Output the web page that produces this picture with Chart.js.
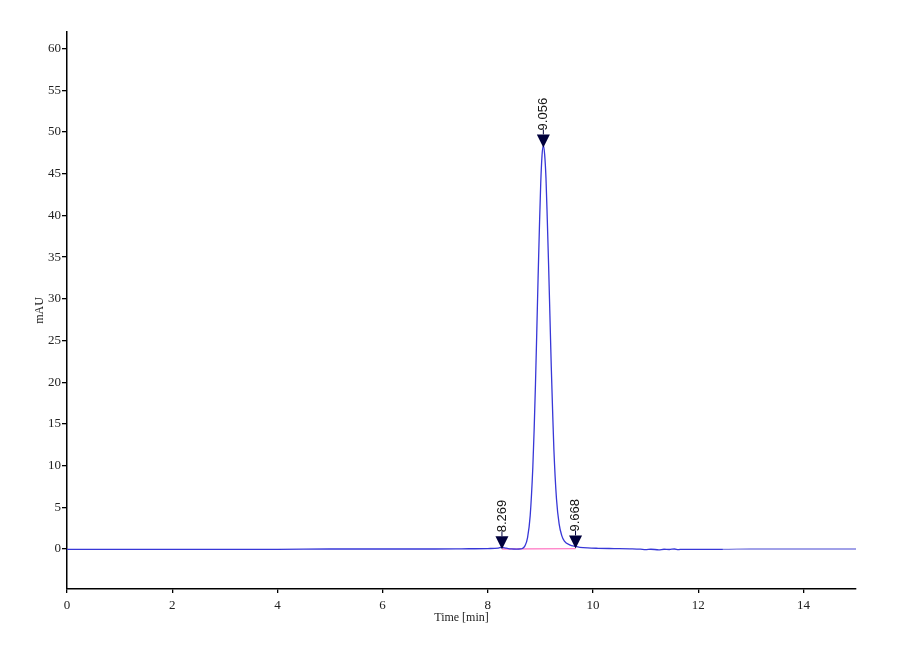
<!DOCTYPE html>
<html>
<head>
<meta charset="utf-8">
<script src="https://cdn.jsdelivr.net/npm/chart.js@4.4.0/dist/chart.umd.min.js"></script>
<style>
  html, body { margin: 0; padding: 0; background: #fff; }
  #wrap { width: 900px; height: 660px; }
</style>
</head>
<body>
<div id="wrap"><canvas id="chromChart" width="900" height="660"></canvas></div>
<script>
// retention time (min) and detector signal (mAU)
var times = [0, 1, 2, 3, 4, 5, 6, 7, 7.5, 8.0, 8.2, 8.269, 8.35, 8.45, 8.55, 8.62,
    8.656, 8.706, 8.756, 8.806, 8.856, 8.881, 8.906, 8.931, 8.956, 8.981, 9.006, 9.031,
    9.056, 9.081, 9.106, 9.131, 9.156, 9.181, 9.206, 9.231, 9.256, 9.306, 9.356, 9.406,
    9.456, 9.556, 9.668, 9.75, 9.9, 10.1, 10.4, 10.7, 10.9, 11.0, 11.1, 11.25, 11.35,
    11.45, 11.55, 11.62, 11.7, 12.0, 12.47, 13, 14, 15];
var signal = [-0.05, -0.05, -0.05, -0.05, -0.05, 0, 0, 0, 0.02, 0.05, 0.1, 0.2, 0.1, 0.0, -0.02, 0.0,
    0.05, 0.37, 1.35, 4.0, 9.8, 14.3, 19.7, 26.0, 32.5, 38.5, 43.8, 47.2,
    48.4, 47.3, 44.5, 39.5, 34.0, 28.0, 22.0, 16.8, 12.0, 6.0, 3.0, 1.6,
    0.95, 0.5, 0.3, 0.2, 0.12, 0.08, 0.05, 0.02, -0.02, -0.08, -0.03, -0.1, -0.03,
    -0.06, 0.0, -0.08, -0.04, -0.05, -0.05, 0, 0, 0];

// integration baseline drawn under the main peak
var baseTimes = [8.269, 9.668];
var baseValues = [0.0, 0.05];

// peak marks
var peakTimes = [8.269, 9.056, 9.668];
var peakHeights = [0.2, 48.4, 0.3];
var peakLabels = ['8.269', '9.056', '9.668'];

var xTicks = [0, 2, 4, 6, 8, 10, 12, 14];
var yTicks = [0, 5, 10, 15, 20, 25, 30, 35, 40, 45, 50, 55, 60];

var tracePoints = times.map((t, i) => ({ x: t, y: signal[i] }));
var basePoints = baseTimes.map((t, i) => ({ x: t, y: baseValues[i] }));

var peakMarks = {
    id: 'peakMarks',
    afterDatasetsDraw(chart) {
        var ctx = chart.ctx;
        var xs = chart.scales.x;
        var ys = chart.scales.y;
        for (let i = 0; i < peakTimes.length; i++) {
            let px = xs.getPixelForValue(peakTimes[i]);
            let py = ys.getPixelForValue(peakHeights[i]) + 2;
            let top = py - 13;
            ctx.save();
            ctx.fillStyle = '#00003c';
            ctx.beginPath();
            ctx.moveTo(px, py);
            ctx.lineTo(px - 6.5, top);
            ctx.lineTo(px + 6.5, top);
            ctx.closePath();
            ctx.fill();
            ctx.strokeStyle = '#00003c';
            ctx.lineWidth = 1;
            ctx.beginPath();
            ctx.moveTo(px, top);
            ctx.lineTo(px, top - 5);
            ctx.stroke();
            ctx.translate(px, top - 4);
            ctx.rotate(-Math.PI / 2);
            ctx.font = '13px "Liberation Sans", Arial, sans-serif';
            ctx.fillStyle = '#111';
            ctx.textAlign = 'left';
            ctx.textBaseline = 'middle';
            ctx.fillText(peakLabels[i], 0, 0);
            ctx.restore();
        }
    }
};

var ctx = document.getElementById('chromChart').getContext('2d');

var myChart = new Chart(ctx, {
    type: 'line',
    data: {
        datasets: [{
            label: 'signal',
            data: tracePoints,
            borderColor: 'rgb(55, 55, 215)',
            borderWidth: 1.3,
            pointRadius: 0,
            cubicInterpolationMode: 'monotone',
            segment: {
                borderColor: c => c.p0.parsed.x >= 12.47 ? 'rgb(130, 130, 225)' : undefined
            },
            order: 1
        }, {
            label: 'baseline',
            data: basePoints,
            borderColor: 'rgb(255, 130, 200)',
            borderWidth: 1.3,
            pointRadius: 0,
            order: 2
        }]
    },
    options: {
        responsive: false,
        animation: false,
        devicePixelRatio: 1,
        layout: { padding: { left: 0, top: 32, right: 44, bottom: 0 } },
        plugins: {
            legend: { display: false },
            tooltip: { enabled: false }
        },
        scales: {
            x: {
                type: 'linear',
                min: 0,
                max: 15,
                afterBuildTicks: scale => { scale.ticks = xTicks.map(v => ({ value: v })); },
                afterFit: scale => { scale.height = 71; },
                grid: { drawOnChartArea: false, drawTicks: true, tickLength: 4, color: '#000', lineWidth: 1.3 },
                border: { display: true, color: '#000', width: 1.5 },
                ticks: {
                    color: '#222',
                    padding: 5,
                    maxRotation: 0,
                    font: { family: '"Liberation Serif", "Times New Roman", serif', size: 13 }
                },
                title: {
                    display: true,
                    text: 'Time [min]',
                    color: '#222',
                    padding: { top: 0, bottom: 35 },
                    font: { family: '"Liberation Serif", "Times New Roman", serif', size: 12 }
                }
            },
            y: {
                min: -4.8,
                max: 62,
                afterBuildTicks: scale => { scale.ticks = yTicks.map(v => ({ value: v })); },
                afterFit: scale => { scale.width = 67; },
                grid: { drawOnChartArea: false, drawTicks: true, tickLength: 5, color: '#000', lineWidth: 1.3 },
                border: { display: true, color: '#000', width: 1.5 },
                ticks: {
                    color: '#222',
                    padding: 1,
                    font: { family: '"Liberation Serif", "Times New Roman", serif', size: 13 }
                },
                title: {
                    display: true,
                    text: 'mAU',
                    color: '#222',
                    padding: { top: 33, bottom: 0 },
                    font: { family: '"Liberation Serif", "Times New Roman", serif', size: 12 }
                }
            }
        }
    },
    plugins: [peakMarks]
});
</script>
</body>
</html>
